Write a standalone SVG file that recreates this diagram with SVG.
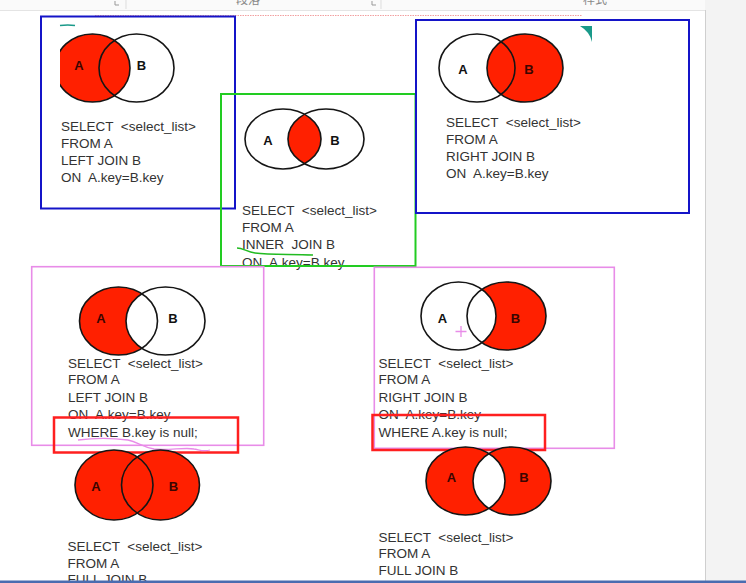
<svg xmlns="http://www.w3.org/2000/svg" width="746" height="583" viewBox="0 0 746 583" xml:space="preserve">
<style>
.sql{font-family:"Liberation Sans",Arial,sans-serif;font-size:13.5px;fill:#333;white-space:pre}
.lbl{font-family:"Liberation Sans",Arial,sans-serif;font-size:13px;font-weight:bold;text-anchor:middle}
.lo{fill:#111}
.li{fill:#3a0500}
.ol{fill:none;stroke:#151515;stroke-width:1.6}
.red{fill:#ff2000}
.wh{fill:#fff}
.blue{fill:none;stroke:#1414c8;stroke-width:2}
.green{fill:none;stroke:#22cc22;stroke-width:2}
.pink{fill:none;stroke:#e88ce8;stroke-width:1.6}
.rbox{fill:none;stroke:#ff1f1f;stroke-width:2.5}
.ui{font-family:"Noto Sans CJK SC","Liberation Sans",sans-serif;font-size:12px;fill:#888}
</style>
<defs>
<clipPath id="c1"><rect x="60" y="20" width="140" height="100"/></clipPath>
<clipPath id="c2"><ellipse cx="326" cy="139" rx="38" ry="30"/></clipPath>
<clipPath id="c7"><ellipse cx="512" cy="481" rx="39" ry="34"/></clipPath>
</defs>
<!-- background / window chrome -->
<rect x="0" y="0" width="746" height="583" fill="#fff"/>
<rect x="0" y="0" width="746" height="10" fill="#fafafa"/>
<line x1="0" y1="10.5" x2="705" y2="10.5" stroke="#e4e4e4" stroke-width="1"/>
<text class="ui" x="236" y="4">段落</text>
<text class="ui" x="583" y="4">样式</text>
<path d="M115,1v4h4M372,1v4h4" fill="none" stroke="#999" stroke-width="1"/>
<line x1="126" y1="0" x2="126" y2="9" stroke="#ddd"/>
<line x1="381" y1="0" x2="381" y2="9" stroke="#ddd"/>
<rect x="705" y="0" width="41" height="583" fill="#f3f3f3"/>
<line x1="705.5" y1="10" x2="705.5" y2="583" stroke="#cfcfcf" stroke-width="1"/>
<line x1="95" y1="15.5" x2="582" y2="15.5" stroke="#f2a0a0" stroke-width="1.2" stroke-dasharray="1.5 1"/>

<g id="left-join">
<g clip-path="url(#c1)">
<ellipse class="red" cx="92.5" cy="68" rx="37.5" ry="34"/>
<ellipse class="ol" cx="92.5" cy="68" rx="37.5" ry="34"/>
</g>
<ellipse class="ol" cx="136.5" cy="68" rx="37.5" ry="34"/>
<path d="M60,25.5q8,-1 15,0" fill="none" stroke="#1a9a8a" stroke-width="1.5"/>
<text class="lbl li" x="79" y="70">A</text>
<text class="lbl lo" x="141.5" y="70">B</text>
<text class="sql" x="61" y="131">SELECT  &lt;select_list&gt;</text>
<text class="sql" x="61" y="148">FROM A</text>
<text class="sql" x="61" y="165">LEFT JOIN B</text>
<text class="sql" x="61" y="182">ON  A.key=B.key</text>
<rect class="blue" x="41" y="16.5" width="194" height="192"/>
</g>

<g id="inner-join">
<ellipse class="wh" cx="283" cy="139" rx="38" ry="30"/>
<ellipse class="red" cx="283" cy="139" rx="38" ry="30" clip-path="url(#c2)"/>
<ellipse class="ol" cx="283" cy="139" rx="38" ry="30"/>
<ellipse class="ol" cx="326" cy="139" rx="38" ry="30"/>
<text class="lbl lo" x="268" y="144.5">A</text>
<text class="lbl lo" x="335" y="144.5">B</text>
<text class="sql" x="242" y="215">SELECT  &lt;select_list&gt;</text>
<text class="sql" x="242" y="231.5">FROM A</text>
<text class="sql" x="242" y="249">INNER  JOIN B</text>
<text class="sql" x="242" y="266.5">ON  A.key=B.key</text>
<path d="M237,248c6,0 10,4 18,5c15,2 35,1 58,2" fill="none" stroke="#22bb22" stroke-width="1.4"/>
<rect class="green" x="221" y="94" width="194.5" height="172"/>
</g>

<g id="right-join">
<ellipse class="wh" cx="477" cy="68" rx="38" ry="34"/>
<ellipse class="red" cx="525" cy="68" rx="38" ry="34"/>
<ellipse class="ol" cx="477" cy="68" rx="38" ry="34"/>
<ellipse class="ol" cx="525" cy="68" rx="38" ry="34"/>
<path d="M580,26h12v16q-2,-10 -12,-16z" fill="#1a9a8a"/>
<text class="lbl lo" x="463" y="73.5">A</text>
<text class="lbl li" x="529" y="73.5">B</text>
<text class="sql" x="446" y="127">SELECT  &lt;select_list&gt;</text>
<text class="sql" x="446" y="144">FROM A</text>
<text class="sql" x="446" y="161">RIGHT JOIN B</text>
<text class="sql" x="446" y="177.5">ON  A.key=B.key</text>
<rect class="blue" x="416" y="20" width="273" height="193"/>
</g>

<g id="left-only">
<ellipse class="red" cx="118.5" cy="321" rx="39" ry="34"/>
<ellipse class="wh" cx="165.5" cy="321" rx="39.5" ry="34"/>
<ellipse class="ol" cx="118.5" cy="321" rx="39" ry="34"/>
<ellipse class="ol" cx="165.5" cy="321" rx="39.5" ry="34"/>
<text class="lbl li" x="101" y="322.5">A</text>
<text class="lbl lo" x="173" y="322.5">B</text>
<text class="sql" x="68" y="367.5">SELECT  &lt;select_list&gt;</text>
<text class="sql" x="68" y="384">FROM A</text>
<text class="sql" x="68" y="401.5">LEFT JOIN B</text>
<text class="sql" x="68" y="419">ON  A.key=B.key</text>
<text class="sql" x="68" y="437">WHERE B.key is null;</text>
<rect class="pink" x="31.7" y="266.7" width="232" height="178.6"/>
<rect class="rbox" x="54" y="417.5" width="184" height="35"/>
<path d="M78,440c15,-2 35,-2 50,0c10,2 14,7 26,9c14,2 30,-2 40,0c6,1 10,3 16,1" fill="none" stroke="#e88ce8" stroke-width="1.3"/>
</g>

<g id="right-only">
<ellipse class="red" cx="506.5" cy="316" rx="39.5" ry="34"/>
<ellipse class="wh" cx="458.5" cy="316" rx="37.5" ry="34"/>
<ellipse class="ol" cx="458.5" cy="316" rx="37.5" ry="34"/>
<ellipse class="ol" cx="506.5" cy="316" rx="39.5" ry="34"/>
<text class="lbl lo" x="442.5" y="322.5">A</text>
<text class="lbl li" x="515.5" y="322.5">B</text>
<path d="M461,326v11M455.5,331.5h11" stroke="#e88ce8" stroke-width="1.3"/>
<text class="sql" x="378.5" y="367.5">SELECT  &lt;select_list&gt;</text>
<text class="sql" x="378.5" y="384">FROM A</text>
<text class="sql" x="378.5" y="401.5">RIGHT JOIN B</text>
<text class="sql" x="378.5" y="419">ON  A.key=B.key</text>
<text class="sql" x="378.5" y="437">WHERE A.key is null;</text>
<rect class="pink" x="374.3" y="267.3" width="240" height="181"/>
<rect class="rbox" x="372.5" y="415" width="172.5" height="35"/>
</g>

<g id="full-join">
<ellipse class="red" cx="114" cy="485" rx="39" ry="35"/>
<ellipse class="red" cx="160.5" cy="485" rx="39" ry="35"/>
<ellipse class="ol" cx="114" cy="485" rx="39" ry="35"/>
<ellipse class="ol" cx="160.5" cy="485" rx="39" ry="35"/>
<text class="lbl li" x="96" y="491">A</text>
<text class="lbl li" x="173.5" y="491">B</text>
<text class="sql" x="67.5" y="551">SELECT  &lt;select_list&gt;</text>
<text class="sql" x="67.5" y="567.5">FROM A</text>
<text class="sql" x="67.5" y="584">FULL JOIN B</text>
</g>

<g id="full-outer-excluding">
<ellipse class="red" cx="465.5" cy="481" rx="39.5" ry="34"/>
<ellipse class="red" cx="512" cy="481" rx="39" ry="34"/>
<ellipse class="wh" cx="465.5" cy="481" rx="39.5" ry="34" clip-path="url(#c7)"/>
<ellipse class="ol" cx="465.5" cy="481" rx="39.5" ry="34"/>
<ellipse class="ol" cx="512" cy="481" rx="39" ry="34"/>
<text class="lbl li" x="451.5" y="481.5">A</text>
<text class="lbl li" x="524" y="481.5">B</text>
<text class="sql" x="378.5" y="541.5">SELECT  &lt;select_list&gt;</text>
<text class="sql" x="378.5" y="558">FROM A</text>
<text class="sql" x="378.5" y="575">FULL JOIN B</text>
</g>

<g id="connectors"/>
<rect x="0" y="580.5" width="746" height="2.5" fill="#4a6cb0"/>
</svg>
